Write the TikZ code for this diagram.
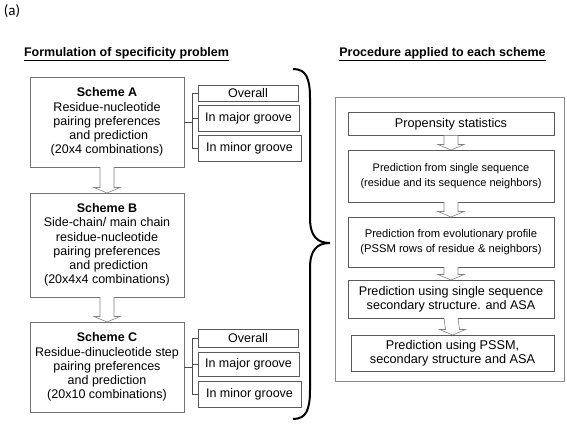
\documentclass[tikz,border=0pt]{standalone}
\usepackage{fontspec}
\setmainfont{Liberation Sans}
\newfontfamily\calib{Carlito}
\usetikzlibrary{calc}
\tikzset{
  sbox/.style={draw=black!55, line width=0.7pt, inner sep=0pt, outer sep=0pt, align=center, font=\fontsize{12.5}{14.2}\selectfont},
  sub/.style={draw=black!65, line width=0.7pt, inner sep=0pt, outer sep=0pt, font=\fontsize{12.5}{14}\selectfont},
  pbox/.style={draw=black!65, line width=0.7pt, inner sep=0pt, outer sep=0pt, align=center},
  ttl/.style={font=\bfseries\fontsize{12.5}{14}\selectfont},
  barrow/.style={draw=black!50, fill=white, line width=0.6pt},
  conn/.style={draw=black!70, line width=0.7pt},
  brace/.style={draw=black, line width=2pt}
}
\newcommand\blockarr[2]{%
  \draw[barrow] ([xshift=-7pt]#1.south) -- ([xshift=-7pt,yshift=5.5pt]#2.north)
    -- ([xshift=-13pt,yshift=5.5pt]#2.north) -- (#2.north)
    -- ([xshift=13pt,yshift=5.5pt]#2.north) -- ([xshift=7pt,yshift=5.5pt]#2.north)
    -- ([xshift=7pt]#1.south);}
\begin{document}
\begin{tikzpicture}[x=1pt,y=-1pt]
\useasboundingbox[fill=white] (0,0) rectangle (567,436);
\node[font=\calib\fontsize{15}{17}\selectfont] (lbl) at (12,11) {(a)};
\node[ttl] (t1) at (126.5,54) {\underline{Formulation of specificity problem}};
\node[ttl] (t2) at (442.5,54) {\underline{Procedure applied to each scheme}};

% left column
\node[sbox, minimum width=154, minimum height=90] (A) at (107,122)
  {\textbf{Scheme A}\\Residue-nucleotide\\pairing preferences\\\ and prediction\\(20x4 combinations)};
\node[sbox, minimum width=154, minimum height=104] (B) at (107,245)
  {\textbf{Scheme B}\\Side-chain/ main chain\\residue-nucleotide\\pairing preferences\\\ and prediction\\(20x4x4 combinations)};
\node[sbox, minimum width=154, minimum height=90] (C) at (107,367)
  {\textbf{Scheme C}\\Residue-dinucleotide step\\pairing preferences\\and prediction\\(20x10 combinations)};

\node[sub, minimum width=100, minimum height=16] (oA) at (248,93) {Overall};
\node[sub, minimum width=101, minimum height=26] (maA) at (248.5,118) {In major groove};
\node[sub, minimum width=103, minimum height=26] (miA) at (249.5,148) {In minor groove};
\node[sub, minimum width=100, minimum height=18] (oC) at (248,338) {Overall};
\node[sub, minimum width=101, minimum height=24] (maC) at (248.5,364) {In major groove};
\node[sub, minimum width=103, minimum height=26] (miC) at (249.5,394) {In minor groove};

\coordinate (jA) at (192,122);
\coordinate (jC) at (192,367);
\draw[conn] (A.east) -- (jA);
\draw[conn] (oA.west) -| ($(miA.west)+(-6,0)$) -- (miA.west);
\draw[conn] (maA.west) -- ++(-6,0);
\draw[conn] (C.east) -- (jC);
\draw[conn] (oC.west) -| ($(miC.west)+(-6,0)$) -- (miC.west);
\draw[conn] (maC.west) -- ++(-6,0);

\blockarr{A}{B}
\blockarr{B}{C}

% brace
\draw[brace] (293,69) .. controls (306,69) and (310,78) .. (310,98)
  -- (310,218) .. controls (310,236) and (317,243) .. (330,243)
  .. controls (317,243) and (310,250) .. (310,268)
  -- (310,390) .. controls (310,410) and (306,419) .. (293,419);

% right column
\node[draw=black!45, line width=0.7pt, minimum width=229, minimum height=284, inner sep=0pt] (outer) at (449.5,239) {};
\node[pbox, minimum width=206, minimum height=23, font=\fontsize{12.7}{14}\selectfont] (p1) at (451,124) {Propensity statistics};
\node[pbox, minimum width=206, minimum height=52, font=\fontsize{11}{14.5}\selectfont] (p2) at (451,176) {Prediction from single sequence\\(residue and its sequence neighbors)};
\node[pbox, minimum width=206, minimum height=50, font=\fontsize{11.2}{14.5}\selectfont] (p3) at (451,242) {Prediction from evolutionary profile\\(PSSM rows of residue \& neighbors)};
\node[pbox, minimum width=206, minimum height=38, font=\fontsize{12.6}{14.5}\selectfont] (p4) at (451,299) {Prediction using single sequence\\secondary structure. and ASA};
\node[pbox, minimum width=203, minimum height=36, font=\fontsize{12.7}{14.5}\selectfont] (p5) at (452.5,353) {Prediction using PSSM,\\secondary structure and ASA};

\blockarr{p1}{p2}
\blockarr{p2}{p3}
\blockarr{p3}{p4}
\blockarr{p4}{p5}
\end{tikzpicture}
\end{document}
